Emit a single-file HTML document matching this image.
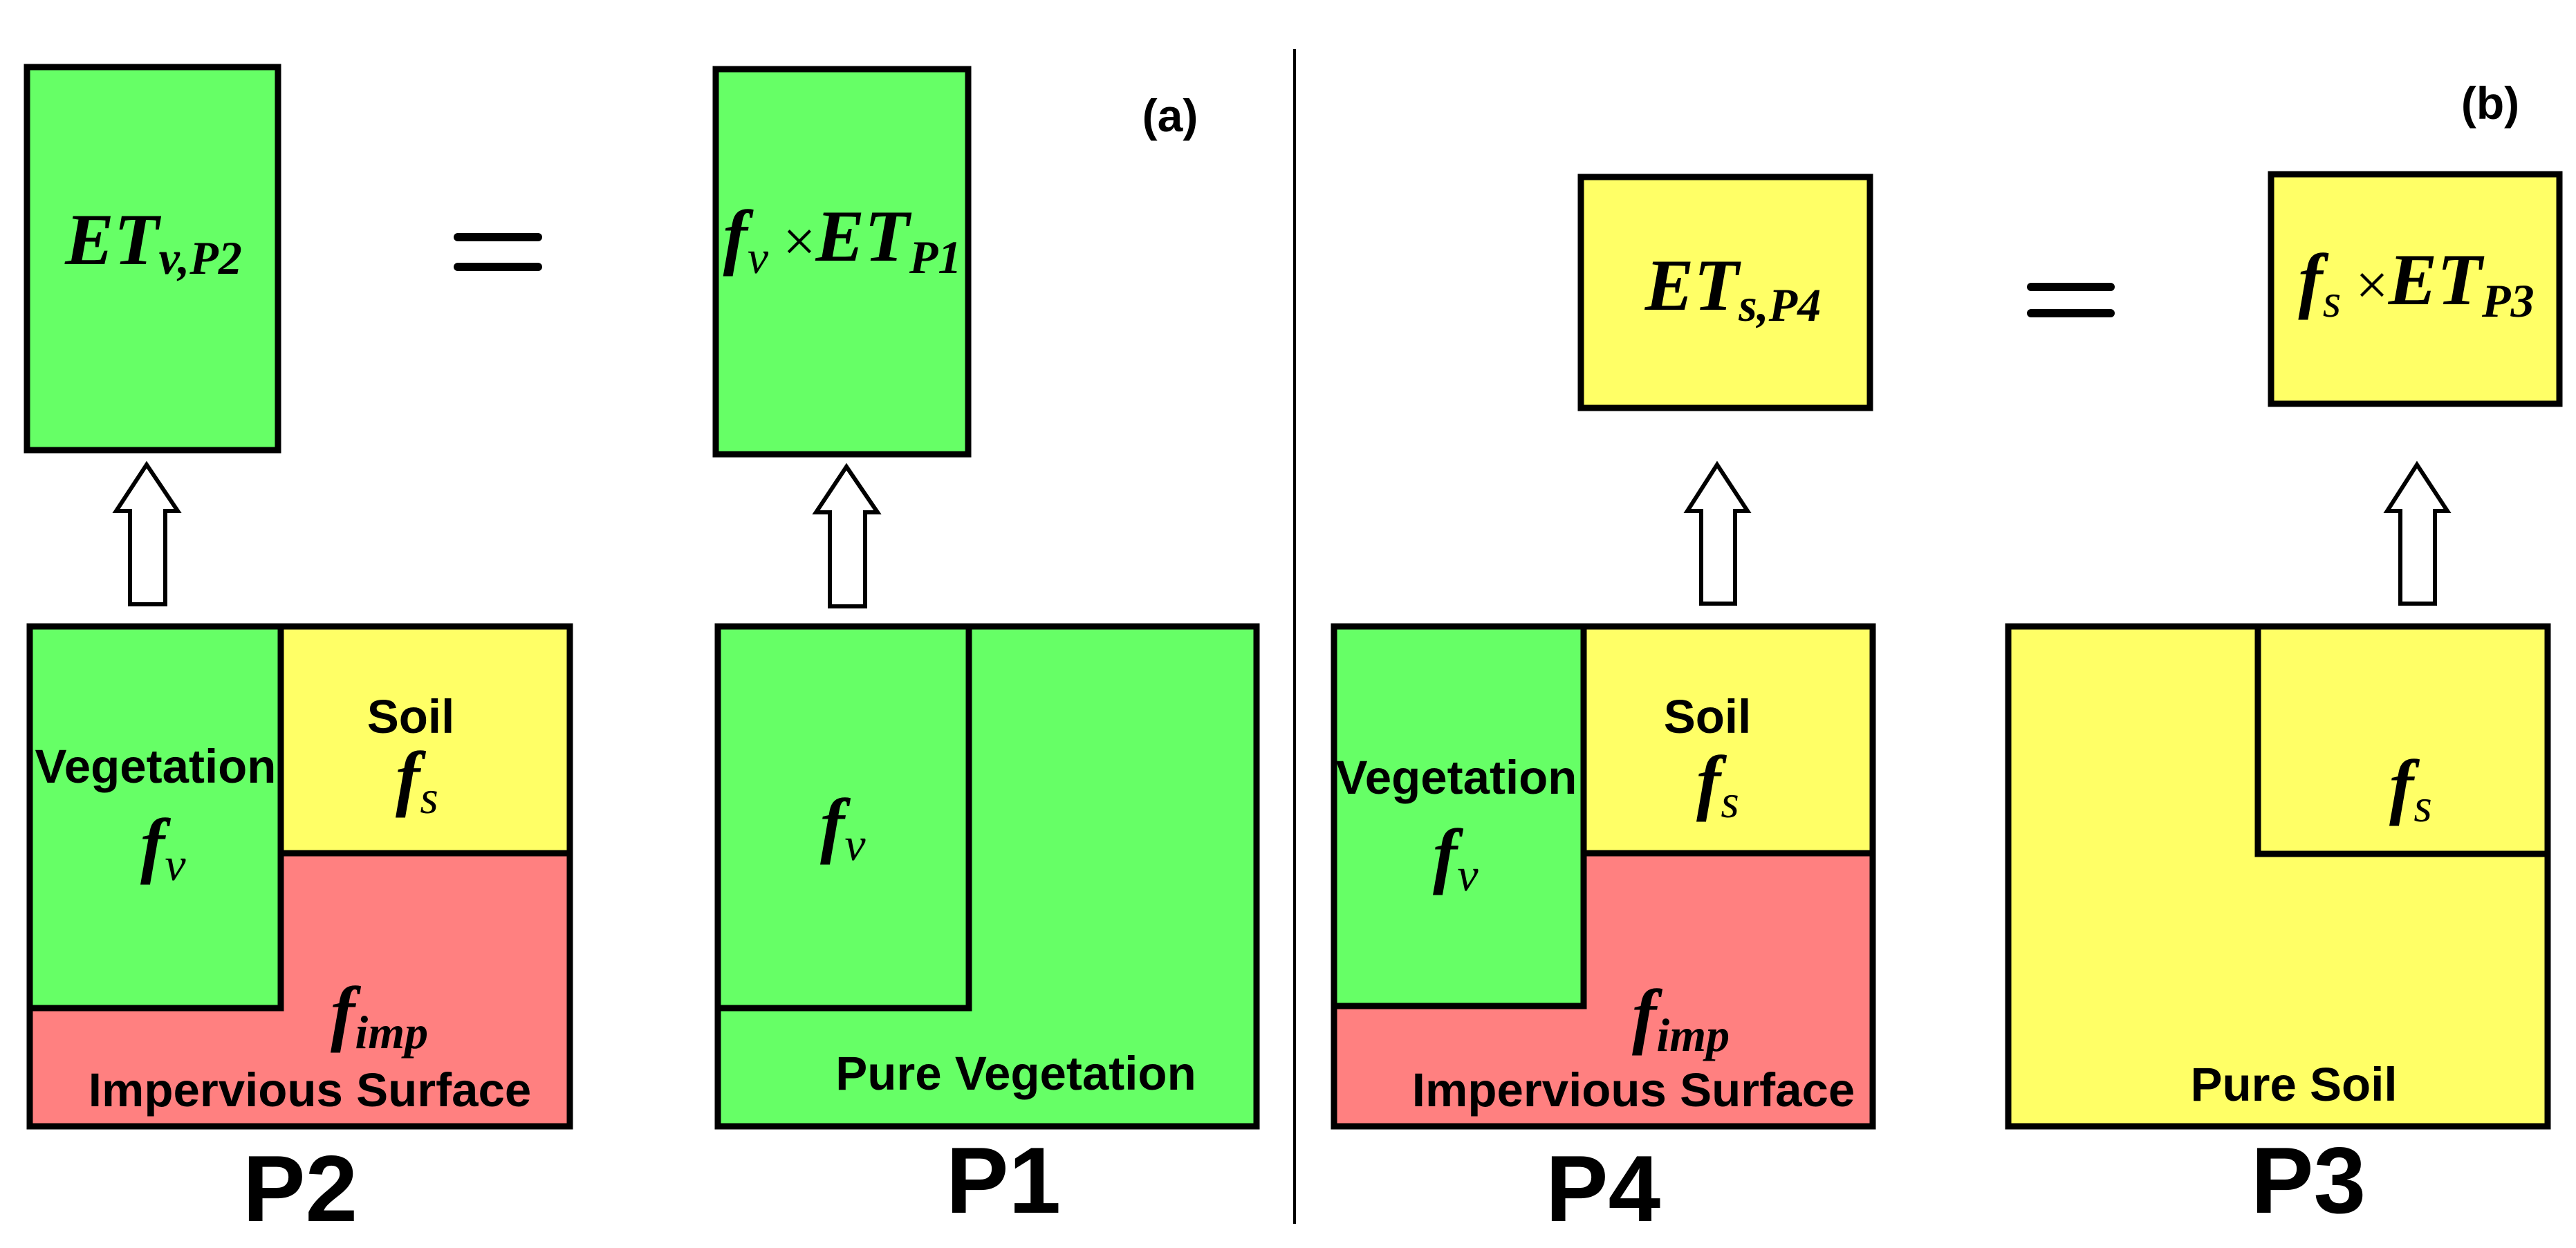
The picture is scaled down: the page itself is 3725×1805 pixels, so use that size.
<!DOCTYPE html>
<html><head><meta charset="utf-8"><style>html,body{margin:0;padding:0;background:#fff}svg{display:block}</style></head>
<body>
<svg width="3725" height="1805" viewBox="0 0 3725 1805" xmlns="http://www.w3.org/2000/svg">
<style>
.b{stroke:#000;stroke-width:9}
.s{font-family:"Liberation Sans",sans-serif;font-weight:bold;font-size:69px;fill:#000;text-anchor:middle}
.m{font-family:"Liberation Serif",serif;font-style:italic;font-weight:bold;fill:#000}
.L{font-family:"Liberation Sans",sans-serif;font-weight:bold;font-size:136px;fill:#000;text-anchor:middle}
</style>
<line x1="1872" y1="71" x2="1872" y2="1770" stroke="#000" stroke-width="4"/>

<rect x="39" y="97" width="363" height="554" fill="#66FF66" class="b"/>
<rect x="1035" y="100" width="365" height="557" fill="#66FF66" class="b"/>
<rect x="2286" y="256" width="418" height="334" fill="#FFFF66" class="b"/>
<rect x="3284" y="252" width="417" height="332" fill="#FFFF66" class="b"/>

<line x1="662" y1="343" x2="778" y2="343" stroke="#000" stroke-width="12" stroke-linecap="round"/>
<line x1="662" y1="386" x2="778" y2="386" stroke="#000" stroke-width="12" stroke-linecap="round"/>
<line x1="2937" y1="415" x2="3052" y2="415" stroke="#000" stroke-width="12" stroke-linecap="round"/>
<line x1="2937" y1="453" x2="3052" y2="453" stroke="#000" stroke-width="12" stroke-linecap="round"/>

<text x="1692" y="190" font-family="Liberation Sans,sans-serif" font-weight="bold" font-size="66" text-anchor="middle">(a)</text>
<text x="3601" y="172" font-family="Liberation Sans,sans-serif" font-weight="bold" font-size="66" text-anchor="middle">(b)</text>

<text x="222" y="382" class="m" font-size="106" text-anchor="middle">ET<tspan font-size="68" dy="14">v,P2</tspan></text>
<text x="1218" y="377" class="m" font-size="106" text-anchor="middle">f<tspan font-size="68" font-weight="normal" dy="18">v</tspan><tspan dy="-18" font-style="normal" font-weight="normal" font-size="84"> ×</tspan>ET<tspan font-size="68" dy="18">P1</tspan></text>
<text x="2506" y="448" class="m" font-size="106" text-anchor="middle">ET<tspan font-size="68" dy="16">s,P4</tspan></text>
<text x="3494" y="440" class="m" font-size="106" text-anchor="middle">f<tspan font-size="68" font-weight="normal" dy="18">s</tspan><tspan dy="-18" font-style="normal" font-weight="normal" font-size="84"> ×</tspan>ET<tspan font-size="68" dy="18">P3</tspan></text>

<g fill="#fff" stroke="#000" stroke-width="6" stroke-linejoin="miter">
<polygon points="212,672 257,739 239,739 239,874 188,874 188,739 168,739"/>
<polygon points="1224,675 1269,741 1251,741 1251,877 1200,877 1200,741 1180,741"/>
<polygon points="2483,672 2527,739 2509,739 2509,873 2460,873 2460,739 2440,739"/>
<polygon points="3495,672 3539,739 3521,739 3521,873 3471,873 3471,739 3452,739"/>
</g>

<rect x="43" y="906" width="781" height="723" fill="#FF8080" class="b"/>
<rect x="43" y="906" width="363" height="552" fill="#66FF66" class="b"/>
<rect x="406" y="906" width="418" height="328" fill="#FFFF66" class="b"/>
<text x="225" y="1132" class="s">Vegetation</text>
<text x="203" y="1257" class="m" font-size="106">f<tspan font-size="68" font-weight="normal" dy="16">v</tspan></text>
<text x="594" y="1060" class="s">Soil</text>
<text x="572" y="1160" class="m" font-size="106">f<tspan font-size="68" font-weight="normal" dy="16">s</tspan></text>
<text x="478" y="1500" class="m" font-size="106" font-weight="normal">f<tspan font-size="68" dy="16">imp</tspan></text>
<text x="448" y="1600" class="s">Impervious Surface</text>
<text x="434" y="1766" class="L">P2</text>

<rect x="1038" y="906" width="779" height="723" fill="#66FF66" class="b"/>
<rect x="1038" y="906" width="363" height="552" fill="#66FF66" class="b"/>
<text x="1186" y="1228" class="m" font-size="106">f<tspan font-size="68" font-weight="normal" dy="16">v</tspan></text>
<text x="1469" y="1576" class="s">Pure Vegetation</text>
<text x="1451" y="1754" class="L">P1</text>

<rect x="1929" y="906" width="779" height="723" fill="#FF8080" class="b"/>
<rect x="1929" y="906" width="361" height="549" fill="#66FF66" class="b"/>
<rect x="2290" y="906" width="418" height="328" fill="#FFFF66" class="b"/>
<text x="2106" y="1148" class="s">Vegetation</text>
<text x="2072" y="1272" class="m" font-size="106">f<tspan font-size="68" font-weight="normal" dy="16">v</tspan></text>
<text x="2469" y="1060" class="s">Soil</text>
<text x="2453" y="1166" class="m" font-size="106">f<tspan font-size="68" font-weight="normal" dy="16">s</tspan></text>
<text x="2360" y="1504" class="m" font-size="106" font-weight="normal">f<tspan font-size="68" dy="16">imp</tspan></text>
<text x="2362" y="1600" class="s">Impervious Surface</text>
<text x="2318" y="1766" class="L">P4</text>

<rect x="2904" y="906" width="780" height="723" fill="#FFFF66" class="b"/>
<rect x="3265" y="906" width="419" height="329" fill="#FFFF66" class="b"/>
<text x="3455" y="1172" class="m" font-size="106">f<tspan font-size="68" font-weight="normal" dy="16">s</tspan></text>
<text x="3317" y="1592" class="s">Pure Soil</text>
<text x="3338" y="1754" class="L">P3</text>
</svg>
</body></html>
